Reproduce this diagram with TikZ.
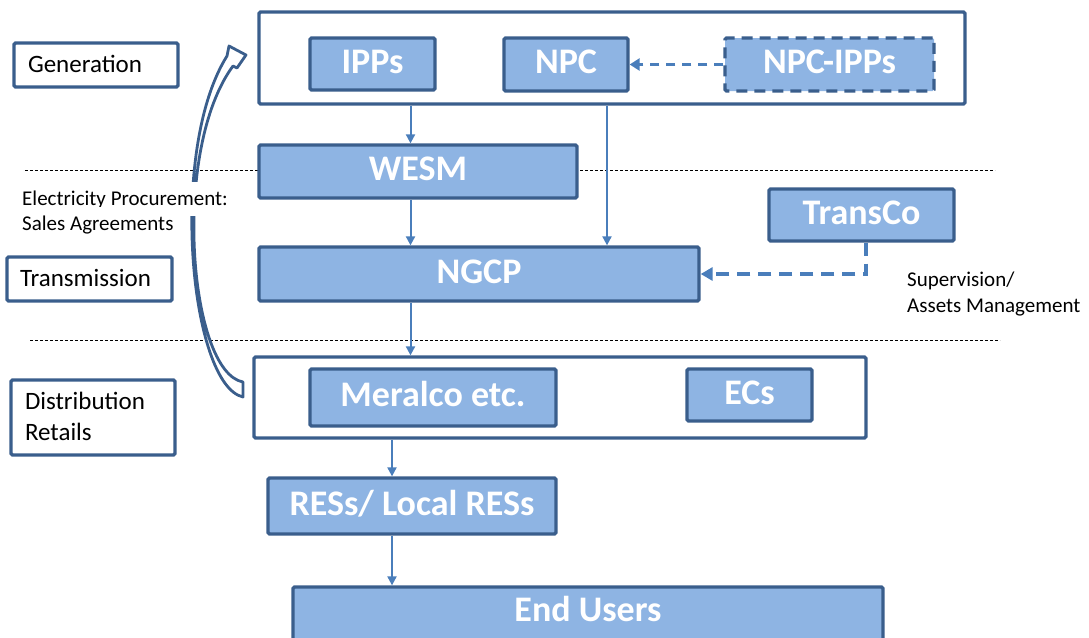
\documentclass[tikz,border=0pt]{standalone}
\usepackage{fontspec}
\setmainfont{Carlito}
\usetikzlibrary{arrows.meta}
\definecolor{ltblue}{HTML}{8EB4E3}
\definecolor{dkblue}{HTML}{3A5E8C}
\definecolor{arrblue}{HTML}{4A7EBB}
\newcommand{\bxfont}{\fontsize{36}{43}\selectfont\bfseries}
\newcommand{\rgfont}{\fontsize{25}{31}\selectfont}
\newcommand{\smfont}{\fontsize{21}{25.5}\selectfont}
\begin{document}
\begin{tikzpicture}[x=1pt,y=-1pt,
  bbox/.style={draw=dkblue, fill=ltblue, line width=3.3pt, rounded corners=1.5pt, inner sep=0pt,
    text=white, font=\bxfont, text height=22.7pt, text depth=4pt},
  cont/.style={draw=dkblue, fill=white, line width=3.3pt, rounded corners=1.5pt, inner sep=0pt},
  lab/.style={draw=dkblue, fill=white, line width=3.3pt, rounded corners=1.5pt, inner ysep=0pt,
    font=\rgfont, align=left, text height=15.8pt, text depth=0pt},
  txt/.style={inner xsep=0pt, inner ysep=8pt, font=\smfont, anchor=base west},
  arr/.style={draw=arrblue, line width=2pt, -{Triangle[length=9pt,width=9pt]}},
  darr/.style={draw=arrblue, line width=3pt, dash pattern=on 9pt off 7pt, -{Triangle[length=10pt,width=12pt]}},
  darrb/.style={draw=arrblue, line width=3.5pt, dash pattern=on 13pt off 8pt, -{Triangle[length=12pt,width=13pt]}},
  dotline/.style={draw=black, line width=1pt, dash pattern=on 3pt off 2pt},
]
\clip (0,0) rectangle (1089,637);

% column coordinates
\coordinate (c1) at (410.5,0);
\coordinate (c2) at (607,0);
\coordinate (c3) at (392,0);
\coordinate (c4) at (866,0);
\coordinate (d1a) at (25,170);
\coordinate (d1b) at (995,170);
\coordinate (d2a) at (30,340);
\coordinate (d2b) at (1000,340);

% dotted separators
\draw[dotline] (d1a) -- (d1b);
\draw[dotline] (d2a) -- (d2b);

% left category labels
\node[lab, minimum width=164pt, minimum height=44pt, text width=136pt, inner xsep=14pt] (gen) at (96,65) {Generation};
\node[lab, minimum width=165pt, minimum height=44pt, text width=139pt, inner xsep=13pt] (trans) at (89.5,279) {Transmission};
\node[lab, minimum width=164pt, minimum height=75pt, text width=136pt, inner xsep=14pt, text depth=31pt] (dist) at (93,417.5) {Distribution\\Retails};

% containers
\node[cont, minimum width=706pt, minimum height=92pt] (top) at (612,58) {};
\node[cont, minimum width=612pt, minimum height=81pt] (bot) at (560,397.5) {};

% boxes
\node[bbox, minimum width=125pt, minimum height=52pt] (ipps) at (372.5,64) {IPPs};
\node[bbox, minimum width=124pt, minimum height=53pt] (npc) at (566,64.5) {NPC};
\node[bbox, minimum width=209pt, minimum height=53pt, dash pattern=on 11pt off 7pt] (npcipps) at (829.5,64.5) {NPC-IPPs};
\node[bbox, minimum width=318pt, minimum height=53pt] (wesm) at (418,171.5) {WESM};
\node[bbox, minimum width=185pt, minimum height=52pt] (transco) at (861.5,215) {TransCo};
\node[bbox, minimum width=440pt, minimum height=54pt] (ngcp) at (479,274) {NGCP};
\node[bbox, minimum width=246pt, minimum height=57pt] (meralco) at (433,397.5) {Meralco etc.};
\node[bbox, minimum width=125pt, minimum height=52pt] (ecs) at (749.5,395) {ECs};
\node[bbox, minimum width=288pt, minimum height=56pt] (ress) at (412,506) {RESs/ Local RESs};
\node[bbox, minimum width=590pt, minimum height=58pt, text depth=11.2pt] (end) at (588,616) {End Users};

% connectors
\draw[arr] (top.south -| c1) -- (wesm.north -| c1);
\draw[arr] (wesm.south -| c1) -- (ngcp.north -| c1);
\draw[arr] (top.south -| c2) -- (ngcp.north -| c2);
\draw[arr] (ngcp.south -| c1) -- (bot.north -| c1);
\draw[arr] (bot.south -| c3) -- (ress.north -| c3);
\draw[arr] (ress.south -| c3) -- (end.north -| c3);
\draw[darr] (npcipps.west) -- (npc.east);
\draw[darrb] (transco.south -| c4) |- (ngcp.east);

% curved block arrow
\draw[dkblue, fill=white, line width=2.8pt, line join=round]
  (243,397) .. controls (190,385) and (168,150) .. (227,56)
  -- (229,46) -- (246,55) -- (237,68) -- (233,66)
  .. controls (171,150) and (189,372) .. (243,382) -- cycle;

% free texts (white ground hides the arrow behind them)
\node[txt, fill=white] (ep1) at (22,205) {Electricity Procurement:};
\node[txt, fill=white] (ep2) at (22,230) {Sales Agreements};
\node[txt] (sv1) at (907,286) {Supervision/};
\node[txt] (sv2) at (907,312) {Assets Management};
\end{tikzpicture}
\end{document}
